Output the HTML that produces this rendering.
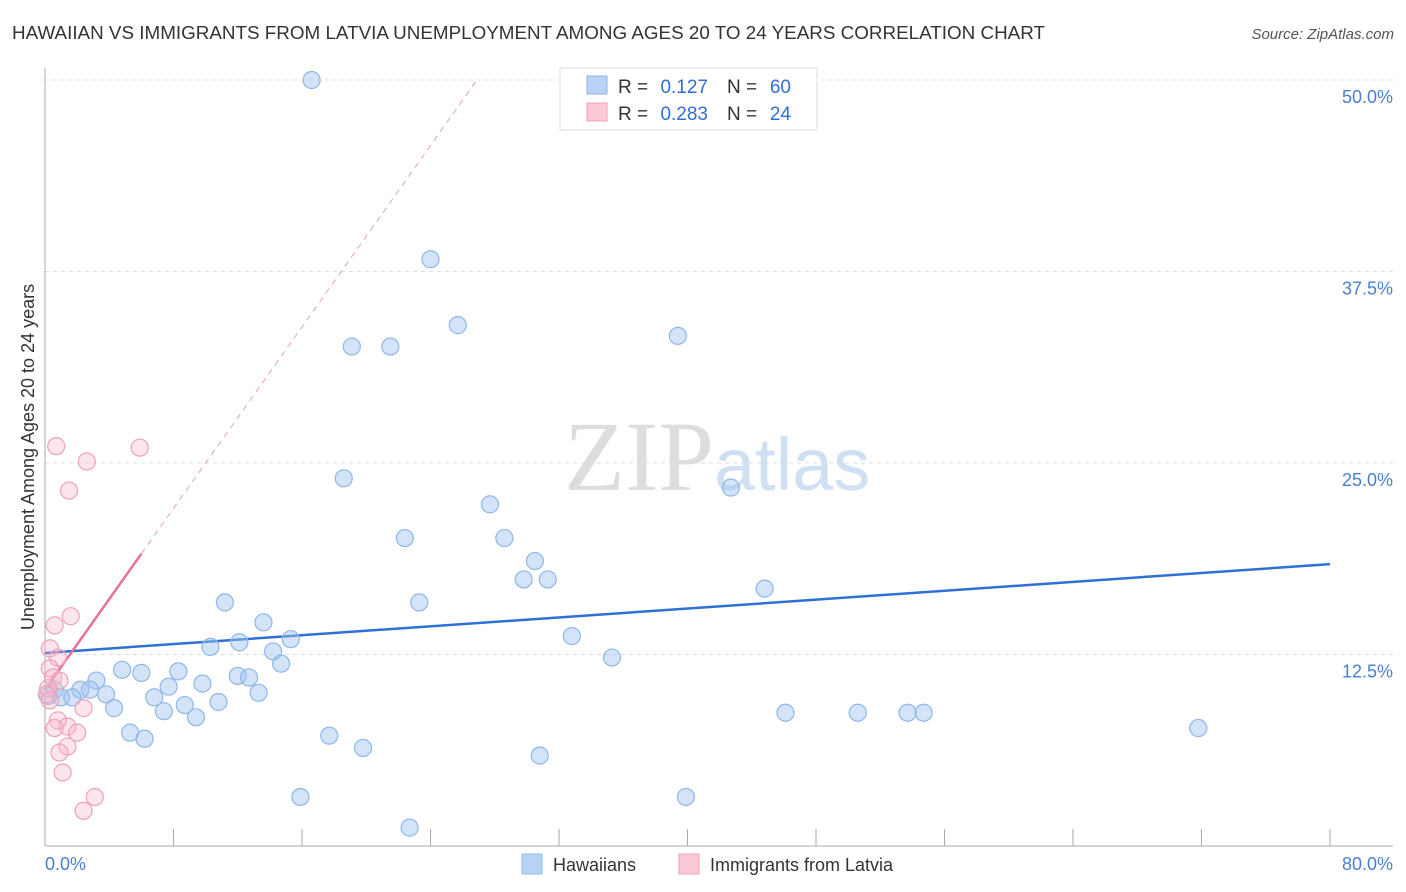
<!DOCTYPE html>
<html><head><meta charset="utf-8"><style>
body{margin:0;background:#fff;font-family:"Liberation Sans",sans-serif;}
svg{display:block}
</style></head><body>
<svg id="chart" width="1406" height="892">
<text x="12" y="39" font-size="18" fill="#333" textLength="1033" lengthAdjust="spacingAndGlyphs">HAWAIIAN VS IMMIGRANTS FROM LATVIA UNEMPLOYMENT AMONG AGES 20 TO 24 YEARS CORRELATION CHART</text>
<text x="1394" y="39" font-size="15" fill="#555" font-style="italic" text-anchor="end">Source: ZipAtlas.com</text>
<text x="714" y="490" font-size="100" fill="#ddd" text-anchor="end" font-family="Liberation Serif, serif">ZIP</text>
<text x="714" y="490" font-size="74" fill="#cfe0f3">atlas</text>
<text transform="translate(34,457) rotate(-90)" font-size="18" fill="#333" text-anchor="middle">Unemployment Among Ages 20 to 24 years</text>
<g id="grid"></g><g id="trend"></g><g id="pts"></g>
<text x="45" y="870" font-size="18" fill="#4a7fd0">0.0%</text>
<text x="1393" y="870" font-size="18" fill="#4a7fd0" text-anchor="end">80.0%</text>
<g>
<rect x="560" y="68" width="257" height="62" fill="#fff" stroke="#ddd"/>
<rect x="587" y="76" width="20" height="18" fill="#b8d3f5" stroke="#8fb6e8"/>
<rect x="587" y="103" width="20" height="18" fill="#fbc8d6" stroke="#f0a0b8"/>
<text x="618" y="93" font-size="19" fill="#333">R =</text>
<text x="708" y="93" font-size="19" fill="#2f6fd6" text-anchor="end">0.127</text>
<text x="727" y="93" font-size="19" fill="#333">N =</text>
<text x="791" y="93" font-size="19" fill="#2f6fd6" text-anchor="end">60</text>
<text x="618" y="120" font-size="19" fill="#333">R =</text>
<text x="708" y="120" font-size="19" fill="#2f6fd6" text-anchor="end">0.283</text>
<text x="727" y="120" font-size="19" fill="#333">N =</text>
<text x="791" y="120" font-size="19" fill="#2f6fd6" text-anchor="end">24</text>
</g>
<g>
<rect x="522" y="854" width="20" height="20" fill="#b8d3f5" stroke="#8fb6e8"/>
<text x="553" y="871" font-size="18" fill="#333">Hawaiians</text>
<rect x="679" y="854" width="20" height="20" fill="#fbc8d6" stroke="#f0a0b8"/>
<text x="710" y="871" font-size="18" fill="#333">Immigrants from Latvia</text>
</g>
</svg>
<script>
const yTicks=[12.5,25,37.5,50];
const yTickLabels=["12.5%","25.0%","37.5%","50.0%"];
const xTicks=[8,16,24,32,40,48,56,64,72,80];
const blueX=[16.6,24.0,25.7,19.1,21.5,39.4,18.6,42.7,27.7,22.4,28.6,30.5,29.8,31.3,44.8,11.2,23.3,13.6,32.8,15.3,10.3,12.1,14.2,14.7,35.3,4.8,6.0,8.3,12.0,12.7,3.2,7.7,9.8,0.6,2.2,2.8,3.8,6.8,13.3,0.2,1.0,1.7,8.7,10.8,4.3,7.4,9.4,46.1,50.6,53.7,54.7,71.8,5.3,6.2,17.7,19.8,30.8,15.9,39.9,22.7];
const blueY=[50.0,38.3,34.0,32.6,32.6,33.3,24.0,23.4,22.3,20.1,20.1,18.6,17.4,17.4,16.8,15.9,15.9,14.6,13.7,13.5,13.0,13.3,12.7,11.9,12.3,11.5,11.3,11.4,11.1,11.0,10.8,10.4,10.6,10.2,10.2,10.2,9.9,9.7,10.0,9.8,9.7,9.7,9.2,9.4,9.0,8.8,8.4,8.7,8.7,8.7,8.7,7.7,7.4,7.0,7.2,6.4,5.9,3.2,3.2,1.2];
const pinkX=[0.7,2.6,5.9,1.5,1.6,0.6,0.3,0.8,0.3,0.5,0.9,0.2,0.1,0.3,2.4,0.8,1.4,0.6,2.0,1.4,0.9,1.1,3.1,2.4];
const pinkY=[26.1,25.1,26.0,23.2,15.0,14.4,12.9,12.3,11.6,11.0,10.8,10.3,9.9,9.5,9.0,8.2,7.8,7.7,7.4,6.5,6.1,4.8,3.2,2.3];
const blueTrend=[12.6,18.4];
const pinkTrend=[10.2,1.48];
const NS="http://www.w3.org/2000/svg";
const xs=v=>45+v*1285/80, ys=v=>846-v*(846-80)/50;
function mk(t,a,p){const e=document.createElementNS(NS,t);for(const k in a)e.setAttribute(k,a[k]);p.appendChild(e);return e;}
const grid=document.getElementById('grid');
yTicks.forEach((t,i)=>{
 const l=mk('line',{x1:45,x2:1393,y1:ys(t),y2:ys(t),stroke:'#ddd','stroke-dasharray':'4,4'},grid);
 
 
 const tx=mk('text',{x:1393,y:ys(t)+23,'font-size':18,fill:'#4a7fd0','text-anchor':'end'},grid);
 tx.textContent=yTickLabels[i];
 
 
});
const ax=mk('line',{x1:45,x2:45,y1:68,y2:846,stroke:'#aaa'},grid);


const bx=mk('line',{x1:45,x2:1393,y1:846,y2:846,stroke:'#aaa'},grid);


xTicks.forEach(t=>{
 const l=mk('line',{x1:xs(t),x2:xs(t),y1:829,y2:846,stroke:'#aaa'},grid);
 
 
});
const pts=document.getElementById('pts');
blueX.forEach((x,i)=>{
 const c=mk('circle',{cx:xs(x),cy:ys(blueY[i]),r:8.5,fill:'rgba(160,196,240,0.45)',stroke:'#8fb6e8','stroke-width':1.2},pts);
 
 
});
pinkX.forEach((x,i)=>{
 const c=mk('circle',{cx:xs(x),cy:ys(pinkY[i]),r:8.5,fill:'rgba(248,180,200,0.35)',stroke:'#f0a0b8','stroke-width':1.2},pts);
 
 
});
const tr=document.getElementById('trend');
const b=mk('line',{x1:xs(0),y1:ys(blueTrend[0]),x2:xs(80),y2:ys(blueTrend[1]),stroke:'#2f6fd6','stroke-width':2.5},tr);


const xe=(50-pinkTrend[0])/pinkTrend[1];
const pd=mk('line',{x1:xs(6),y1:ys(pinkTrend[0]+6*pinkTrend[1]),x2:xs(xe),y2:ys(50),stroke:'#e8a0b8','stroke-width':1,'stroke-dasharray':'6,5'},tr);


const p=mk('line',{x1:xs(0),y1:ys(pinkTrend[0]),x2:xs(6),y2:ys(pinkTrend[0]+6*pinkTrend[1]),stroke:'#e8709a','stroke-width':2.5},tr);


</script>
</body></html>
